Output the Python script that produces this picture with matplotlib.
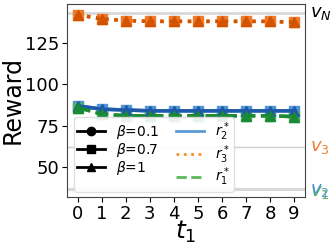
import numpy as np
import matplotlib
matplotlib.use("Agg")
import matplotlib.pyplot as plt
from matplotlib.lines import Line2D

# Data
t1 = np.arange(10)
betas = ["0.1", "0.7", "1"]
markers = ["o", "s", "^"]

r3_star = [142, 139.5, 138.5, 138, 138, 138, 138, 138, 138, 137.5]
r2_star = [87, 85, 84.5, 84, 84, 84, 84, 84, 84, 84]
r1_star = [86, 82, 81, 81, 81, 81, 81, 81, 81, 80.5]

v_N = 143
v_3 = 62
v_2 = 37
v_1 = 36.3

# shades per beta (light -> dark)
orange = ["#f7a35c", "#ee7a2a", "#d35400"]
blue = ["#86bde6", "#4f94d4", "#1f5aa8"]
green = ["#94d694", "#52b55e", "#1b8a35"]

fig = plt.figure(figsize=(3.35, 2.49), dpi=100)
ax = fig.add_axes([0.2, 0.209, 0.71, 0.775])

# reference lines
ax.axhline(v_N, color="#d8d8d8", lw=2, zorder=0)
ax.axhline(v_3, color="#cfcfcf", lw=1, zorder=0)
ax.axhline(v_2, color="#d8d8d8", lw=1.5, zorder=0)
ax.axhline(v_1, color="#d8d8d8", lw=1.5, zorder=0)

for i, m in enumerate(markers):
    ax.plot(t1, r3_star, ls=":", color=orange[i], lw=2.5, marker=m, ms=7, zorder=3)
    ax.plot(t1, r2_star, ls="-", color=blue[i], lw=2.5, marker=m, ms=7, zorder=3)
    ax.plot(t1, r1_star, ls="--", color=green[i], lw=2.5, marker=m, ms=7, zorder=3)

ax.set_xlim(-0.45, 9.45)
ax.set_ylim(32, 148.5)
ax.set_xticks(t1)
ax.set_yticks([50, 75, 100, 125])
ax.tick_params(labelsize=13, pad=2)
ax.set_xlabel("$t_1$", fontsize=18, labelpad=-3)
ax.set_ylabel("Reward", fontsize=17, labelpad=0)
for s in ax.spines.values():
    s.set_color("#444444")

trans = ax.get_yaxis_transform()
ax.text(1.02, v_N, "$v_N$", color="black", fontsize=13, va="center", transform=trans)
ax.text(1.02, v_3, "$v_3$", color="#f07f2e", fontsize=13, va="center", transform=trans)
ax.text(1.02, v_1 - 1.5, "$v_1$", color="#52b55e", fontsize=13, va="center", transform=trans)
ax.text(1.02, v_2 - 1, "$v_2$", color="#4f94d4", fontsize=13, va="center", transform=trans)

handles = []
labels = []
for b, m in zip(betas, markers):
    handles.append(Line2D([], [], color="black", lw=2, marker=m, ms=6))
    labels.append(r"$\beta$=" + b)
handles += [Line2D([], [], color="#5b9bd5", lw=2, ls="-"),
            Line2D([], [], color="#f28e2b", lw=2, ls=":"),
            Line2D([], [], color="#5cb85c", lw=2, ls="--")]
labels += ["$r_2^*$", "$r_3^*$", "$r_1^*$"]
leg = ax.legend(handles, labels, ncol=2, loc="lower left", fontsize=10,
                bbox_to_anchor=(0.0, -0.01), framealpha=0.9, edgecolor="#dddddd",
                handlelength=2, columnspacing=1.2, labelspacing=0.0,
                borderpad=0.25)
leg.set_zorder(5)

fig.savefig("out.png", dpi=100)
